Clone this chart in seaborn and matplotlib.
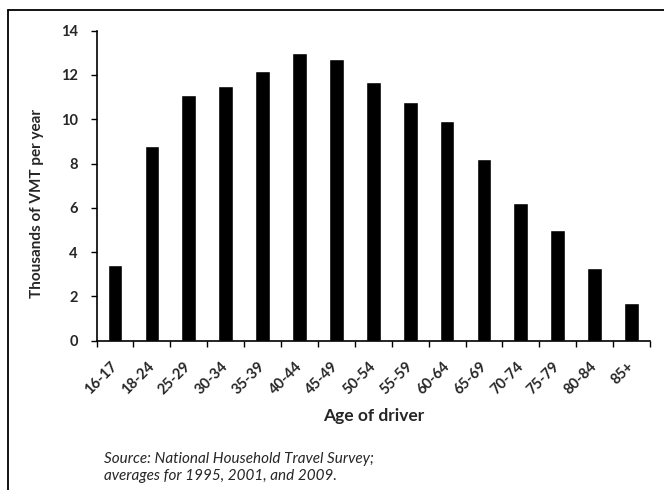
import matplotlib
matplotlib.use("Agg")
import matplotlib.pyplot as plt
from matplotlib.lines import Line2D
from matplotlib.ticker import FixedLocator
from matplotlib.transforms import ScaledTranslation
import seaborn as sns
import pandas as pd

age_groups = ["16-17", "18-24", "25-29", "30-34", "35-39", "40-44", "45-49",
              "50-54", "55-59", "60-64", "65-69", "70-74", "75-79", "80-84", "85+"]
vmt_thousands = [3.4, 8.8, 11.1, 11.5, 12.2, 13.0, 12.7,
                 11.7, 10.8, 9.9, 8.2, 6.2, 5.0, 3.3, 1.7]
y_ticks = [0, 2, 4, 6, 8, 10, 12, 14]

df = pd.DataFrame({"age": age_groups, "vmt": vmt_thousands})

sns.set_theme(style="white")
plt.rcParams["font.family"] = ["Lato", "DejaVu Sans"]

W, H = 664, 490
fig = plt.figure(figsize=(W / 100, H / 100), dpi=100)
ax = fig.add_axes([96.6 / W, 1 - 340.7 / H, (650 - 96.6) / W, (340.7 - 30.7) / H])

sns.barplot(data=df, x="age", y="vmt", color="black", saturation=1,
            width=0.40, ax=ax)

ax.set_xlim(-0.5, len(age_groups) - 0.5)
ax.set_ylim(0, 14)
ax.set_yticks(y_ticks)
ax.set_yticklabels([str(t) for t in y_ticks], fontsize=10.5, fontweight="bold")

ax.set_xticks(range(len(age_groups)))
ax.set_xticklabels(age_groups, rotation=45, ha="right", va="center",
                   rotation_mode="anchor", fontsize=10.5, fontweight="bold")
shift = ScaledTranslation(4 / 100, 0, fig.dpi_scale_trans)
for lbl in ax.get_xticklabels():
    lbl.set_transform(lbl.get_transform() + shift)
ax.xaxis.set_minor_locator(FixedLocator([i - 0.5 for i in range(len(age_groups) + 1)]))
ax.tick_params(axis="x", which="major", length=0, pad=17)
ax.tick_params(axis="x", which="minor", length=4, width=1, color="black", bottom=True)
ax.tick_params(axis="y", which="major", length=4.5, width=1, color="black", left=True, pad=9)

for side in ("top", "right"):
    ax.spines[side].set_visible(False)
for side in ("left", "bottom"):
    ax.spines[side].set_color("black")
    ax.spines[side].set_linewidth(1.2)

ax.set_xlabel("")
ax.set_ylabel("")

fig.text(374 / W, 1 - 416 / H, "Age of driver", fontsize=12.5, fontweight="bold",
         ha="center", va="center")
fig.text(36.7 / W, 1 - 203 / H, "Thousands of VMT per year", fontsize=11, fontweight="bold",
         rotation=90, ha="center", va="center")

fig.text(104 / W, 1 - 459 / H, "Source: National Household Travel Survey;",
         fontsize=11, style="italic", ha="left", va="center")
fig.text(104 / W, 1 - 476 / H, "averages for 1995, 2001, and 2009.",
         fontsize=11, style="italic", ha="left", va="center")

# Outer frame: left and top edges
fig.add_artist(Line2D([8 / W, 8 / W], [0.0, 1 - 10 / H], color="black", linewidth=1.3,
                      transform=fig.transFigure))
fig.add_artist(Line2D([8 / W, 1.0], [1 - 10 / H, 1 - 10 / H], color="black", linewidth=1.3,
                      transform=fig.transFigure))

fig.savefig("out.png", dpi=100)
